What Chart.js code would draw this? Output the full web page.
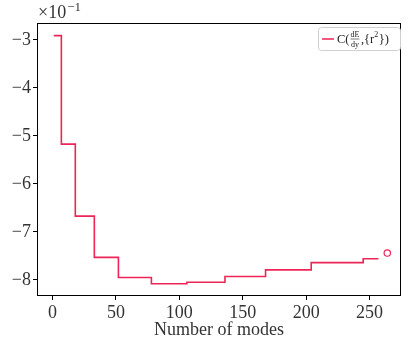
<!DOCTYPE html>
<html>
<head>
<meta charset="utf-8">
<script src="https://cdn.jsdelivr.net/npm/chart.js@4"></script>
<style>
  html, body { margin: 0; padding: 0; background: #fff; }
  #wrap { width: 411px; height: 348px; }
</style>
</head>
<body>
<div id="wrap"><canvas id="chart" width="411" height="348"></canvas></div>
<script>
// step curve: value holds from each mode count until the next one
const modeSteps = [1, 7, 18, 33, 52, 78, 106, 136, 168, 204, 245, 257];
const stepValues = [-0.291, -0.517, -0.667, -0.753, -0.795, -0.808, -0.805, -0.793, -0.779, -0.764, -0.756, -0.756];
// single reference point drawn as an open circle
const refModes = [264];
const refValues = [-0.744];
// tick labels
const xTicks = [0, 50, 100, 150, 200, 250];
const yTicks = [-0.8, -0.7, -0.6, -0.5, -0.4, -0.3];

const red = '#ee2456';
const serif = '"Liberation Serif", "DejaVu Serif", serif';

// frame, offset text and legend, matplotlib style
const decorations = {
    id: 'decorations',
    afterDraw(chart) {
        const ctx = chart.ctx;
        const a = chart.chartArea;
        ctx.save();
        ctx.strokeStyle = '#000';
        ctx.lineWidth = 1;
        ctx.strokeRect(a.left + 0.5, a.top + 0.5, a.right - a.left - 1, a.bottom - a.top - 1);

        // x10^-1 offset label
        ctx.fillStyle = '#333';
        ctx.textBaseline = 'alphabetic';
        ctx.textAlign = 'left';
        ctx.font = '18px ' + serif;
        ctx.fillText('×10', a.left + 1, 18);
        const w = ctx.measureText('×10').width;
        ctx.font = '13px ' + serif;
        ctx.fillText('−1', a.left + 1 + w + 1, 11);

        // legend box
        const bx = 318, by = 27, bw = 82, bh = 23;
        ctx.fillStyle = 'rgba(255,255,255,0.8)';
        ctx.strokeStyle = '#d0d0d0';
        ctx.beginPath();
        ctx.roundRect(bx + 0.5, by + 0.5, bw, bh, 3);
        ctx.fill();
        ctx.stroke();
        ctx.strokeStyle = red;
        ctx.lineWidth = 1.5;
        ctx.beginPath();
        ctx.moveTo(bx + 4, by + 12);
        ctx.lineTo(bx + 16, by + 12);
        ctx.stroke();

        ctx.fillStyle = '#222';
        ctx.font = '12.5px ' + serif;
        let x = bx + 19;
        const base = by + 16;
        ctx.fillText('C(', x, base);
        x += ctx.measureText('C(').width + 1;
        ctx.font = '8px ' + serif;
        const fw = Math.max(ctx.measureText('dE').width, ctx.measureText('dy').width);
        ctx.textAlign = 'center';
        ctx.fillText('dE', x + fw / 2, base - 6);
        ctx.fillText('dy', x + fw / 2, base + 4);
        ctx.strokeStyle = '#222';
        ctx.lineWidth = 0.6;
        ctx.beginPath();
        ctx.moveTo(x, base - 4);
        ctx.lineTo(x + fw, base - 4);
        ctx.stroke();
        ctx.textAlign = 'left';
        x += fw + 1.5;
        ctx.font = '12.5px ' + serif;
        ctx.fillText(',{r', x, base);
        x += ctx.measureText(',{r').width;
        ctx.font = '8px ' + serif;
        ctx.fillText('2', x, base - 6);
        x += ctx.measureText('2').width + 0.5;
        ctx.font = '12.5px ' + serif;
        ctx.fillText('})', x, base);
        ctx.restore();
    }
};

const ctx = document.getElementById('chart').getContext('2d');
const chart = new Chart(ctx, {
    type: 'line',
    data: {
        datasets: [{
            label: 'C(dE/dy,{r²})',
            data: modeSteps.map((m, i) => ({ x: m, y: stepValues[i] })),
            borderColor: red,
            borderWidth: 1.6,
            stepped: 'before',
            pointRadius: 0,
            fill: false
        }, {
            label: 'reference',
            data: refModes.map((m, i) => ({ x: m, y: refValues[i] })),
            showLine: false,
            pointStyle: 'circle',
            pointRadius: 3.2,
            pointBorderWidth: 1.2,
            pointBorderColor: red,
            pointBackgroundColor: 'rgba(0,0,0,0)'
        }]
    },
    options: {
        responsive: false,
        animation: false,
        layout: { padding: { top: 23, right: 10, left: 0, bottom: 0 } },
        plugins: {
            legend: { display: false },
            tooltip: { enabled: false }
        },
        scales: {
            x: {
                type: 'linear',
                min: -12.2,
                max: 274.8,
                afterBuildTicks: axis => { axis.ticks = xTicks.map(v => ({ value: v })); },
                afterFit: scale => { scale.height = 52; },
                grid: { drawOnChartArea: false, drawTicks: true, tickLength: 4, color: '#000' },
                border: { display: false },
                ticks: {
                    color: '#333',
                    padding: 2,
                    maxRotation: 0,
                    font: { family: serif, size: 18 },
                    callback: v => String(v)
                },
                title: {
                    display: true,
                    text: 'Number of modes',
                    color: '#333',
                    font: { family: serif, size: 18 },
                    padding: { top: 0, bottom: 7 }
                }
            },
            y: {
                type: 'linear',
                min: -0.8335,
                max: -0.2646,
                afterBuildTicks: axis => { axis.ticks = yTicks.map(v => ({ value: v })); },
                afterFit: scale => { scale.width = 37; },
                grid: { drawOnChartArea: false, drawTicks: true, tickLength: 4, color: '#000' },
                border: { display: false },
                ticks: {
                    color: '#333',
                    padding: 2,
                    font: { family: serif, size: 18 },
                    callback: v => '−' + Math.round(Math.abs(v) * 10)
                }
            }
        }
    },
    plugins: [decorations]
});
</script>
</body>
</html>
